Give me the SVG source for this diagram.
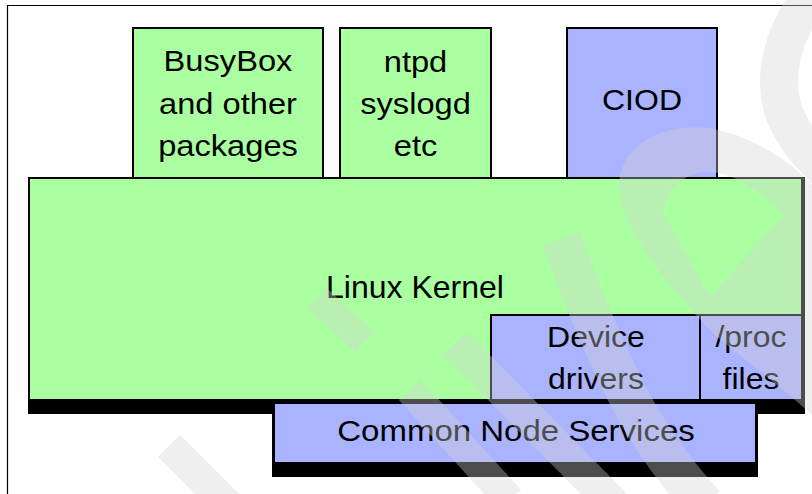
<svg xmlns="http://www.w3.org/2000/svg" width="812" height="494" viewBox="0 0 812 494">
<style>
.g{fill:#aaffa1;stroke:#000;stroke-width:2}
.b{fill:#aab3ff;stroke:#000;stroke-width:2}
.sh{fill:#000}
text{font-family:"Liberation Sans",Arial,sans-serif;font-size:32px;fill:#000;text-anchor:middle}
.wm{fill:none;stroke:#d3d3d3;stroke-opacity:0.365;stroke-linecap:butt}
.wmf{fill:#d3d3d3;fill-opacity:0.365;fill-rule:evenodd}
</style>
<rect width="812" height="494" fill="#fff"/>
<path d="M7.5,494 V5.5 H812" fill="none" stroke="#000" stroke-width="1.2"/>
<g id="busybox">
<rect class="g" x="133" y="28" width="190" height="150"/>
<text transform="translate(228,71) scale(1.02,0.92)">BusyBox</text>
<text transform="translate(228,114) scale(1.02,0.92)">and other</text>
<text transform="translate(228,156) scale(1.02,0.92)">packages</text>
</g>
<g id="ntpd">
<rect class="g" x="340" y="28" width="151" height="150"/>
<text transform="translate(415.5,72) scale(1.02,0.92)">ntpd</text>
<text transform="translate(415.5,114) scale(1.02,0.92)">syslogd</text>
<text transform="translate(415.5,156) scale(1.02,0.92)">etc</text>
</g>
<g id="ciod">
<rect class="b" x="567" y="28" width="150" height="150"/>
<text transform="translate(642,110) scale(1,0.9)">CIOD</text>
</g>
<g id="kernel">
<rect class="sh" x="28" y="177" width="777" height="237"/>
<rect class="g" x="29" y="178" width="773" height="222"/>
<text transform="translate(415,298)">Linux Kernel</text>
</g>
<g id="drivers">
<rect class="b" x="491" y="315" width="209" height="85"/>
<text transform="translate(596,347) scale(1,0.95)">Device</text>
<text transform="translate(596,389) scale(1,0.95)">drivers</text>
</g>
<g id="proc">
<rect class="b" x="700" y="315" width="102" height="85"/>
<text transform="translate(751,347) scale(1,0.95)">/proc</text>
<text transform="translate(751,389) scale(1,0.95)">files</text>
</g>
<g id="cns">
<rect class="sh" x="272" y="401" width="486" height="76"/>
<rect class="b" x="274" y="403" width="482" height="60"/>
<text transform="translate(516,441) scale(1,0.9)" style="font-size:33px">Common Node Services</text>
</g>
<g id="connectors"></g>
<g id="watermark">
<path class="wm" stroke-width="31" d="M169,446 L230,507"/>
<path class="wm" stroke-width="28" d="M317,298 L365,342"/>
<path class="wm" stroke-width="33" d="M455,343 L615,505"/>
<path class="wm" stroke-width="30" d="M410,390 L510,500"/>
<path class="wm" stroke-width="40" d="M561,238 Q595,330 625,390 Q655,450 705,505"/>
<path class="wmf" d="M620,195 C612,148 662,122 707,128 C752,134 795,165 812,185 L812,415 C785,390 745,360 715,335 C680,300 628,240 620,195 Z M663,212 C668,185 690,170 712,172 C740,175 765,195 783,215 L710,297 Z"/>
<path class="wm" stroke-width="38" d="M812,-5 C785,30 770,75 785,115 C793,135 805,150 825,170"/>
</g>
</svg>
